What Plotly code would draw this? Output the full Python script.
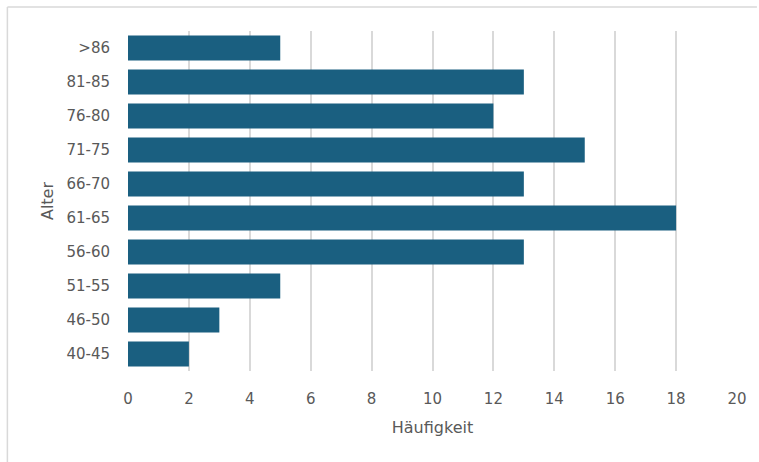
import plotly.graph_objects as go

categories = ["40-45", "46-50", "51-55", "56-60", "61-65", "66-70", "71-75", "76-80", "81-85", ">86"]
counts = [2, 3, 5, 13, 18, 13, 15, 12, 13, 5]
x_ticks = [0, 2, 4, 6, 8, 10, 12, 14, 16, 18, 20]

W, H = 759, 462
L, R, T, B = 128, 20, 31, 91
pw, ph = W - L - R, H - T - B

fig = go.Figure(go.Bar(
    y=categories, x=counts, orientation="h",
    marker=dict(color="#1a5f80", line=dict(width=0)),
))

font_fam = "DejaVu Sans, sans-serif"
fig.update_layout(
    width=W, height=H,
    margin=dict(l=L, r=R, t=T, b=B, pad=0),
    paper_bgcolor="white", plot_bgcolor="white",
    bargap=0.26,
    showlegend=False,
    font=dict(family=font_fam, size=15, color="#595959"),
    xaxis=dict(
        range=[0, 20], tickvals=x_ticks, showgrid=True, gridcolor="#d9d9d9", gridwidth=1.5,
        zeroline=False, showline=False, ticks="", ticklabelstandoff=17,
        title=dict(text="Häufigkeit", font=dict(size=16, color="#595959"), standoff=14),
    ),
    yaxis=dict(
        categoryorder="array", categoryarray=categories,
        showgrid=False, zeroline=False, showline=False, ticks="", ticklabelstandoff=17,
        title=dict(text="Alter", font=dict(size=16, color="#595959"), standoff=8),
    ),
    shapes=[
        dict(type="line", xref="paper", yref="paper",
             x0=(7 - L) / pw, x1=(W - L) / pw, y0=1 + (T - 7) / ph, y1=1 + (T - 7) / ph,
             line=dict(color="#d9d9d9", width=1.5)),
        dict(type="line", xref="paper", yref="paper",
             x0=(7 - L) / pw, x1=(7 - L) / pw, y0=1 + (T - 7) / ph, y1=-B / ph,
             line=dict(color="#d9d9d9", width=1.5)),
    ],
)

fig.write_html("out.html")
